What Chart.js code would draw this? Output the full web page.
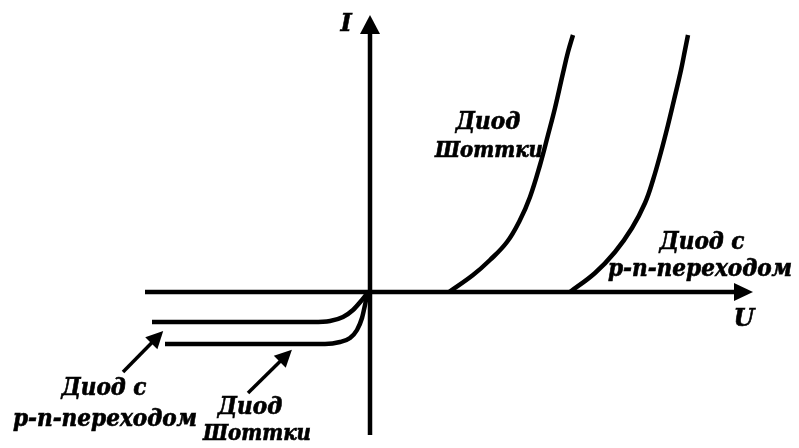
<!DOCTYPE html>
<html>
<head>
<meta charset="utf-8">
<script src="https://cdn.jsdelivr.net/npm/chart.js@4.4.0/dist/chart.umd.min.js"></script>
<style>
    html, body { margin: 0; padding: 0; background: #fff; }
    #wrap { width: 799px; height: 448px; }
</style>
</head>
<body>
<div id="wrap"><canvas id="diodeChart"></canvas></div>
<script>
// Forward branches (U, I)
const schottkyFwdU = [0.79, 1.03, 1.20, 1.37, 1.50, 1.60, 1.70, 1.78, 1.85, 1.93, 1.98, 2.03];
const schottkyFwdI = [0.00, 0.17, 0.32, 0.50, 0.72, 0.95, 1.27, 1.57, 1.84, 2.19, 2.40, 2.57];
const pnFwdU = [2.00, 2.25, 2.45, 2.62, 2.75, 2.83, 2.91, 2.98, 3.04, 3.11, 3.15, 3.18];
const pnFwdI = [0.00, 0.19, 0.40, 0.64, 0.89, 1.12, 1.40, 1.67, 1.92, 2.22, 2.42, 2.57];

// Reverse branches
const pnRevU = [-2.18, -0.57, -0.40, -0.27, -0.17, -0.08, -0.03, 0.00];
const pnRevI = [-0.30, -0.30, -0.29, -0.25, -0.18, -0.08, -0.02, 0.00];
const schottkyRevU = [-2.05, -0.45, -0.30, -0.20, -0.13, -0.08, -0.05, -0.03, 0.00];
const schottkyRevI = [-0.52, -0.52, -0.50, -0.46, -0.38, -0.26, -0.13, -0.04, 0.00];

// Axes and label pointers (start, end where the head begins)
const axisUU = [-2.25, 3.65];
const axisUI = [0, 0];
const axisIU = [0, 0];
const axisII = [-1.43, 2.59];
const pnPointerU = [-2.47, -2.18];
const pnPointerI = [-0.80, -0.505];
const schottkyPointerU = [-1.22, -0.895];
const schottkyPointerI = [-1.01, -0.69];

// Text labels
const labelTexts = ['I', 'U', 'Диод', 'Шоттки', 'Диод с', 'p-n-переходом', 'Диод с', 'p-n-переходом', 'Диод', 'Шоттки'];
const labelU = [-0.24, 3.74, 1.18, 1.19, 3.32, 3.30, -2.66, -2.65, -1.20, -1.13];
const labelI = [2.67, -0.28, 1.69, 1.41, 0.49, 0.22, -0.97, -1.28, -1.16, -1.42];

const toPoints = (us, is) => us.map((u, i) => ({ x: u, y: is[i] }));

const lineSet = (us, is, width, opts) => Object.assign({
    data: toPoints(us, is),
    showLine: true,
    borderColor: '#000',
    borderWidth: width,
    pointRadius: 0,
    tension: 0,
    borderCapStyle: 'butt',
    arrowHead: null
}, opts || {});

const sketchDecor = {
    id: 'sketchDecor',
    afterDatasetsDraw(chart) {
        const ctx = chart.ctx;
        const xs = chart.scales.x;
        const ys = chart.scales.y;
        ctx.save();
        ctx.fillStyle = '#000';
        ctx.strokeStyle = '#000';
        chart.data.datasets.forEach(ds => {
            if (!ds.arrowHead) return;
            const n = ds.data.length;
            const x0 = xs.getPixelForValue(ds.data[n - 2].x);
            const y0 = ys.getPixelForValue(ds.data[n - 2].y);
            const x1 = xs.getPixelForValue(ds.data[n - 1].x);
            const y1 = ys.getPixelForValue(ds.data[n - 1].y);
            const a = Math.atan2(y1 - y0, x1 - x0);
            const { len, half } = ds.arrowHead;
            ctx.save();
            ctx.translate(x1, y1);
            ctx.rotate(a);
            ctx.beginPath();
            ctx.moveTo(-1, -half);
            ctx.lineTo(len, 0);
            ctx.lineTo(-1, half);
            ctx.closePath();
            ctx.fill();
            ctx.restore();
        });

        // labels, slightly stroked to get the heavy print look
        ctx.textAlign = 'center';
        ctx.textBaseline = 'middle';
        ctx.lineWidth = 0.6;
        labelTexts.forEach((t, i) => {
            const size = t === 'Шоттки' ? 22 : 24;
            ctx.font = i < 2 ? 'bold italic 24px "DejaVu Serif"'
                : `bold italic ${size}px "DejaVu Serif Condensed", "DejaVu Serif"`;
            const px = xs.getPixelForValue(labelU[i]);
            const py = ys.getPixelForValue(labelI[i]);
            ctx.fillText(t, px, py);
            ctx.strokeText(t, px, py);
        });
        ctx.restore();
    }
};

new Chart(document.getElementById('diodeChart'), {
    type: 'scatter',
    data: {
        datasets: [
            lineSet(axisUU, axisUI, 4.5, { arrowHead: { len: 18, half: 9 } }),
            lineSet(axisIU, axisII, 4.5, { arrowHead: { len: 18, half: 10 } }),
            lineSet(schottkyFwdU, schottkyFwdI, 4.5, { tension: 0.4 }),
            lineSet(pnFwdU, pnFwdI, 4.5, { tension: 0.4 }),
            lineSet(pnRevU, pnRevI, 4.5, { cubicInterpolationMode: 'monotone' }),
            lineSet(schottkyRevU, schottkyRevI, 4.5, { cubicInterpolationMode: 'monotone' }),
            lineSet(pnPointerU, pnPointerI, 3.5, { arrowHead: { len: 16, half: 8.5 } }),
            lineSet(schottkyPointerU, schottkyPointerI, 3.5, { arrowHead: { len: 16, half: 8.5 } })
        ]
    },
    options: {
        responsive: true,
        maintainAspectRatio: false,
        animation: false,
        layout: { padding: 0 },
        plugins: { legend: { display: false }, tooltip: { enabled: false } },
        scales: {
            x: { type: 'linear', min: -3.70, max: 4.29, display: false },
            y: { type: 'linear', min: -1.56, max: 2.92, display: false }
        }
    },
    plugins: [sketchDecor]
});
</script>
</body>
</html>
